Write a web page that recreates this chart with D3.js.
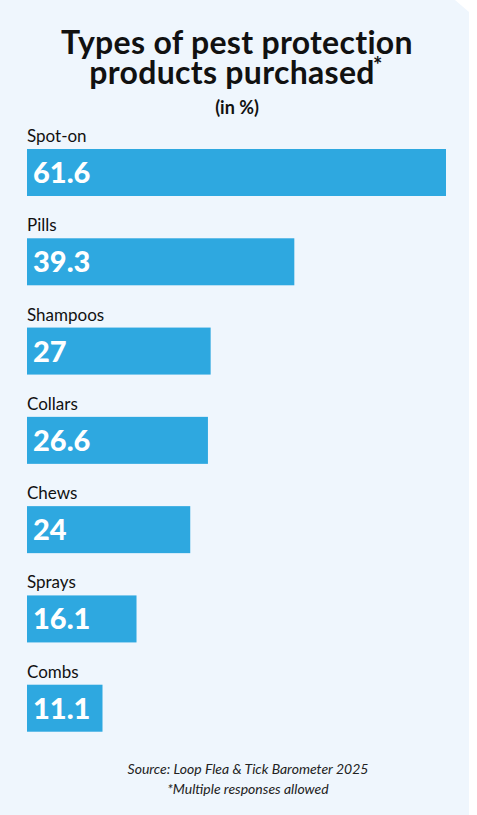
<!DOCTYPE html>
<html><head><meta charset="utf-8">
<script src="https://cdn.jsdelivr.net/npm/d3@7"></script>
<style>body{margin:0;background:#fff}svg{display:block}</style>
</head><body>
<script>
const categories=["Spot-on","Pills","Shampoos","Collars","Chews","Sprays","Combs"];
const values=[61.6,39.3,27,26.6,24,16.1,11.1];
const titleLines=["Types of pest protection","products purchased"];
const W=477,H=815;
const svg=d3.select("body").append("svg").attr("width",W).attr("height",H);
svg.append("path").attr("d","M0,0 L455,0 L469,12 L469,815 L0,815 Z").attr("fill","#eff6fd");
const font="Lato, 'Open Sans', sans-serif";
svg.append("text").attr("x",237).attr("y",54).attr("text-anchor","middle").attr("font-family",font).attr("font-weight",700).attr("font-size",32).attr("letter-spacing",0.3).attr("fill","#111").text(titleLines[0]);
svg.append("text").attr("x",232).attr("y",84).attr("text-anchor","middle").attr("font-family",font).attr("font-weight",700).attr("font-size",32).attr("letter-spacing",0.3).attr("fill","#111").text(titleLines[1]);
svg.append("text").attr("x",373).attr("y",73).attr("font-family",font).attr("font-weight",700).attr("font-size",22).attr("fill","#111").text("*");
svg.append("text").attr("x",237).attr("y",114).attr("text-anchor","middle").attr("font-family",font).attr("font-weight",700).attr("font-size",18).attr("fill","#111").text("(in %)");
const x=d3.scaleLinear().domain([0,61.6]).range([27,446]);
const y=d3.scaleBand().domain(categories).range([126,751]).paddingInner(0);
const g=svg.selectAll("g.bar").data(categories).join("g").attr("transform",d=>`translate(0,${y(d)})`);
g.append("text").attr("x",27).attr("y",16).attr("font-family",font).attr("font-size",17).attr("fill","#111").text(d=>d);
g.append("rect").attr("x",27).attr("y",23).attr("height",47).attr("width",(d,i)=>x(values[i])-27).attr("fill","#2ea8e0");
g.append("text").attr("x",33).attr("y",57).attr("font-family",font).attr("font-weight",900).attr("font-size",29).attr("fill","#fff").text((d,i)=>values[i]);
svg.append("text").attr("x",248).attr("y",774).attr("text-anchor","middle").attr("font-family",font).attr("font-style","italic").attr("font-size",14).attr("fill","#222").text("Source: Loop Flea & Tick Barometer 2025");
svg.append("text").attr("x",248).attr("y",794).attr("text-anchor","middle").attr("font-family",font).attr("font-style","italic").attr("font-size",14).attr("fill","#222").text("*Multiple responses allowed");
</script>
</body></html>
